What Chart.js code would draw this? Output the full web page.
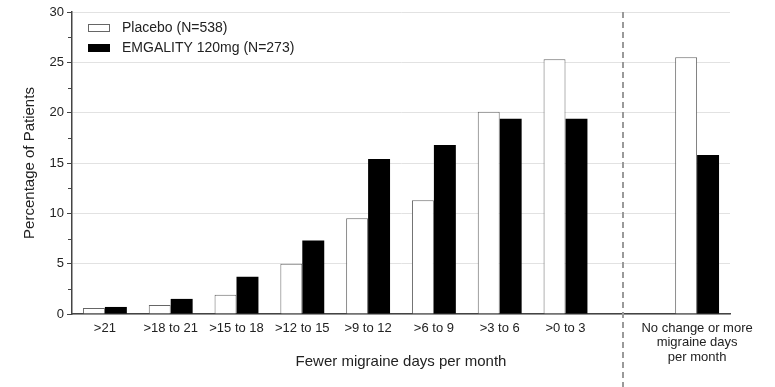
<!DOCTYPE html>
<html>
<head>
<meta charset="utf-8">
<script src="https://cdn.jsdelivr.net/npm/chart.js@4/dist/chart.umd.min.js"></script>
<style>
    html, body { margin: 0; padding: 0; background: #fff; }
    #wrap { width: 775px; height: 387px; position: relative; }
</style>
</head>
<body>
<div id="wrap"><canvas id="migraineChart"></canvas></div>
<script>
        // Chart data
        const categories = [
            ">21", ">18 to 21", ">15 to 18", ">12 to 15", ">9 to 12",
            ">6 to 9", ">3 to 6", ">0 to 3", "",
            ["No change or more", "migraine days", "per month"],
        ];
        const placeboValues = [0.6, 0.9, 1.9, 5.0, 9.5, 11.3, 20.1, 25.3, null, 25.5];
        const emgalityValues = [0.7, 1.5, 3.7, 7.3, 15.4, 16.8, 19.4, 19.4, null, 15.8];
        const yTicks = [0, 5, 10, 15, 20, 25, 30];
        const yMinorTicks = [2.5, 7.5, 12.5, 17.5, 22.5, 27.5];
        const seriesNames = ["Placebo (N=538)", "EMGALITY 120mg (N=273)"];

        const FONT = "'Liberation Sans', Arial, sans-serif";
        const TEXT = "#222";
        const AXIS = "#444";

        // Minor ticks, dashed separator and the in-plot legend
        const extrasPlugin = {
            id: "extras",
            afterDraw(chart) {
                const { ctx, chartArea } = chart;
                const x = chart.scales.x;
                const y = chart.scales.y;
                ctx.save();

                ctx.strokeStyle = AXIS;
                ctx.lineWidth = 1;
                yMinorTicks.forEach((v) => {
                    const py = Math.round(y.getPixelForValue(v)) + 0.5;
                    ctx.beginPath();
                    ctx.moveTo(chartArea.left - 4, py);
                    ctx.lineTo(chartArea.left, py);
                    ctx.stroke();
                });

                const x7 = x.getPixelForValue(7);
                const x9 = x.getPixelForValue(9);
                const sx = Math.round(x7 + (x9 - x7) * 0.435);
                ctx.strokeStyle = "#9a9a9a";
                ctx.lineWidth = 2;
                ctx.setLineDash([6, 4]);
                ctx.beginPath();
                ctx.moveTo(sx, chartArea.top);
                ctx.lineTo(sx, chart.height);
                ctx.stroke();
                ctx.setLineDash([]);

                // legend
                const lx = chartArea.left + 16;
                const ly = chartArea.top + 12;
                ctx.font = "14px " + FONT;
                ctx.textBaseline = "middle";
                ctx.fillStyle = TEXT;
                seriesNames.forEach((name, i) => {
                    const by = ly + i * 20;
                    ctx.fillStyle = i === 0 ? "#fff" : "#000";
                    ctx.fillRect(lx, by, 22, 8);
                    if (i === 0) {
                        ctx.strokeStyle = "#666";
                        ctx.lineWidth = 1;
                        ctx.strokeRect(lx + 0.5, by + 0.5, 21, 7);
                    }
                    ctx.fillStyle = TEXT;
                    ctx.fillText(name, lx + 34, by + 4);
                });

                ctx.restore();
            },
        };

        const ctx = document.getElementById("migraineChart").getContext("2d");
        const migraineChart = new Chart(ctx, {
            type: "bar",
            data: {
                labels: categories,
                datasets: [
                    {
                        label: seriesNames[0],
                        data: placeboValues,
                        backgroundColor: "#ffffff",
                        borderColor: "#666",
                        borderWidth: 1,
                    },
                    {
                        label: seriesNames[1],
                        data: emgalityValues,
                        backgroundColor: "#000000",
                        borderColor: "#000000",
                        borderWidth: 0,
                    },
                ],
            },
            options: {
                responsive: true,
                maintainAspectRatio: false,
                animation: false,
                datasets: {
                    bar: { categoryPercentage: 0.667, barPercentage: 1.0 },
                },
                layout: { padding: { left: 0, right: 45, top: 12, bottom: 0 } },
                plugins: {
                    legend: { display: false },
                    tooltip: { enabled: false },
                },
                scales: {
                    x: {
                        afterFit: (s) => { s.height = 73; },
                        grid: { color: "rgba(0,0,0,0)", drawTicks: false },
                        border: { display: true, color: AXIS, width: 1.5 },
                        ticks: {
                            color: TEXT,
                            padding: 7,
                            maxRotation: 0,
                            autoSkip: false,
                            font: { family: FONT, size: 13, lineHeight: 1.12 },
                        },
                        title: {
                            display: true,
                            text: "Fewer migraine days per month",
                            color: TEXT,
                            font: { family: FONT, size: 15 },
                            padding: { top: 0, bottom: 16 },
                        },
                    },
                    y: {
                        min: 0,
                        max: 30,
                        afterFit: (s) => { s.width = 72; },
                        afterBuildTicks: (s) => { s.ticks = yTicks.map((v) => ({ value: v })); },
                        grid: { color: "#e2e2e2", tickColor: AXIS, tickLength: 5, lineWidth: 1 },
                        border: { display: true, color: AXIS, width: 1.5 },
                        ticks: {
                            color: TEXT,
                            padding: 3,
                            font: { family: FONT, size: 13 },
                        },
                        title: {
                            display: true,
                            text: "Percentage of Patients",
                            color: TEXT,
                            font: { family: FONT, size: 15 },
                            padding: { top: 21, bottom: 0 },
                        },
                    },
                },
            },
            plugins: [extrasPlugin],
        });
</script>
</body>
</html>
